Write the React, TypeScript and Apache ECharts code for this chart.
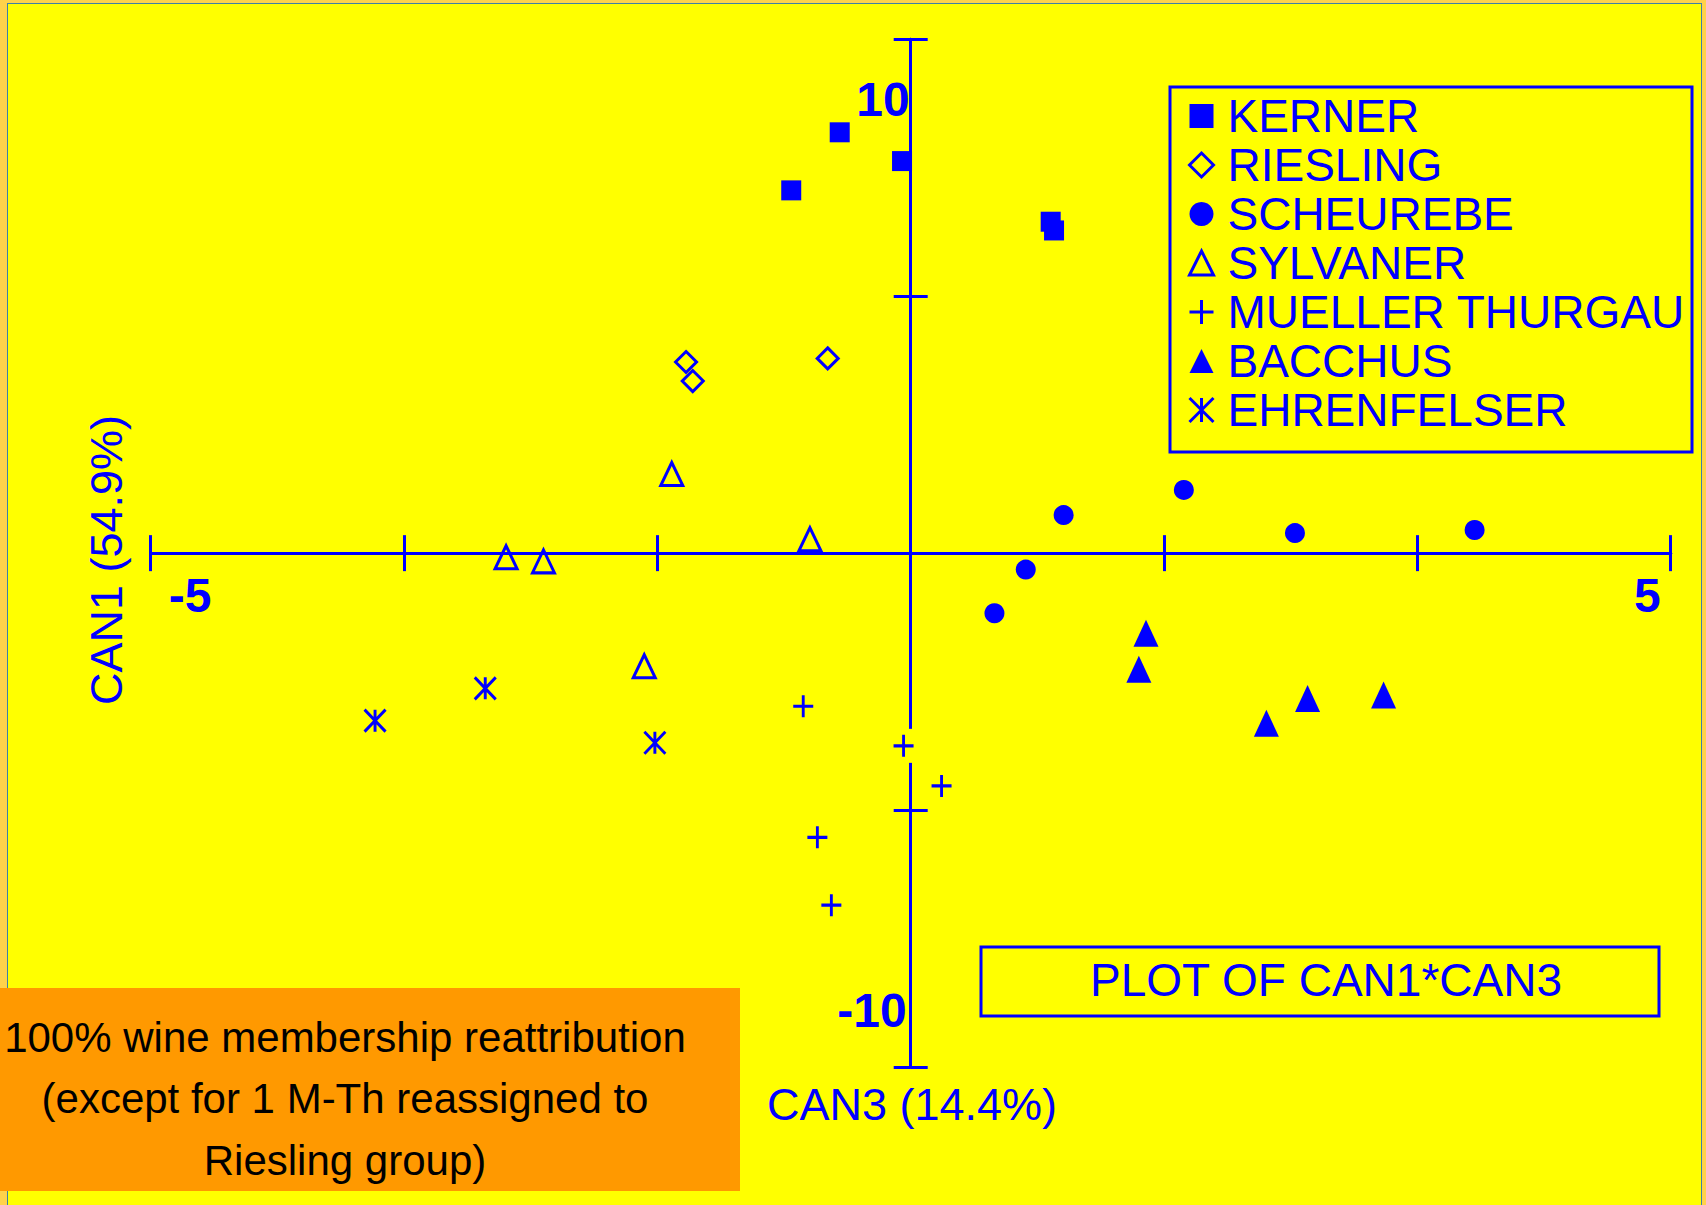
import React, { useEffect, useRef } from 'react';
import * as echarts from 'echarts';

const BLUE = '#0000FF';
const YELLOW = '#FFFF00';
const ORANGE = '#FF9900';
const FONT = '"Liberation Sans", Arial, Helvetica, sans-serif';

// ---- data (CAN3 on x, CAN1 on y) ----
const SERIES_NAMES = ['KERNER', 'RIESLING', 'SCHEUREBE', 'SYLVANER', 'MUELLER THURGAU', 'BACCHUS', 'EHRENFELSER'];
const KERNER = [[-0.786, 7.06], [-0.467, 8.19], [-0.057, 7.63], [0.921, 6.45], [0.943, 6.28]];
const RIESLING = [[-1.478, 3.72], [-1.434, 3.35], [-0.546, 3.79]];
const SCHEUREBE = [[1.006, 0.74], [1.797, 1.23], [0.757, -0.32], [0.551, -1.17], [2.528, 0.39], [3.71, 0.45]];
const SYLVANER = [[-1.572, 1.54], [-0.663, 0.27], [-2.662, -0.08], [-2.416, -0.16], [-1.753, -2.2]];
const MUELLER_THURGAU = [[-0.707, -2.98], [-0.047, -3.75], [0.203, -4.53], [-0.614, -5.53], [-0.522, -6.85]];
const BACCHUS = [[1.548, -1.56], [1.501, -2.26], [2.34, -3.31], [2.611, -2.83], [3.111, -2.76]];
const EHRENFELSER = [[-3.524, -3.26], [-2.799, -2.63], [-1.683, -3.69]];

const X_MIN = -5;
const X_MAX = 5;
const X_STEP = 5 / 3;
const Y_MIN = -10;
const Y_MAX = 10;
const Y_STEP = 5;
const X_END_LABELS = ['-5', '5'];
const Y_END_LABELS = ['10', '-10'];
const X_TITLE = 'CAN3 (14.4%)';
const Y_TITLE = 'CAN1 (54.9%)';
const PLOT_TITLE = 'PLOT OF CAN1*CAN3';
const NOTE_LINES = ['100% wine membership reattribution', '(except for 1 M-Th reassigned to', 'Riesling group)'];

const PLUS = 'path://M0,-1L0,1M-1,0L1,0';
const STAR = 'path://M-1,-1L1,1M1,-1L-1,1M0,-1L0,1';

export default function App() {
  const ref = useRef<HTMLDivElement>(null);

  useEffect(() => {
    const chart = echarts.init(ref.current as HTMLDivElement, null, { renderer: 'svg', width: 1706, height: 1205 });
    const lineStyle = { color: BLUE, width: 3 };
    const mkX = (position: string) => ({
      type: 'value', min: X_MIN, max: X_MAX, interval: X_STEP, position,
      axisLine: { show: true, onZero: true, lineStyle },
      axisTick: { show: true, inside: false, length: 18, lineStyle },
      axisLabel: { show: false }, splitLine: { show: false },
    });
    const mkY = (position: string) => ({
      type: 'value', min: Y_MIN, max: Y_MAX, interval: Y_STEP, position,
      axisLine: { show: true, onZero: true, lineStyle },
      axisTick: { show: true, inside: false, length: 17, lineStyle },
      axisLabel: { show: false }, splitLine: { show: false },
    });
    const hollow = { color: 'none', borderColor: BLUE, borderWidth: 3, opacity: 1 };
    const solid = { color: BLUE, borderWidth: 0, opacity: 1 };
    const defs: any[] = [
      { name: SERIES_NAMES[0], data: KERNER, symbol: 'rect', symbolSize: 20, itemStyle: solid },
      { name: SERIES_NAMES[1], data: RIESLING, symbol: 'diamond', symbolSize: 21, itemStyle: hollow },
      { name: SERIES_NAMES[2], data: SCHEUREBE, symbol: 'circle', symbolSize: 20, itemStyle: solid },
      { name: SERIES_NAMES[3], data: SYLVANER, symbol: 'triangle', symbolSize: [22, 23], itemStyle: hollow },
      { name: SERIES_NAMES[4], data: MUELLER_THURGAU, symbol: PLUS, symbolSize: [20, 22], itemStyle: hollow },
      { name: SERIES_NAMES[5], data: BACCHUS, symbol: 'triangle', symbolSize: [25, 27], itemStyle: solid },
      { name: SERIES_NAMES[6], data: EHRENFELSER, symbol: STAR, symbolSize: [21, 22], itemStyle: hollow },
    ];
    const series: any[] = [
      {
        type: 'scatter', name: '_gap', data: MUELLER_THURGAU, symbol: 'rect', symbolSize: [22, 34],
        itemStyle: { color: YELLOW, opacity: 1 }, z: 2, silent: true, xAxisIndex: 0, yAxisIndex: 0,
      },
      ...defs.map((d) => ({
        type: 'scatter', xAxisIndex: 0, yAxisIndex: 0, z: 3, silent: true,
        emphasis: { disabled: true }, ...d,
      })),
    ];

    chart.setOption({
      animation: false,
      backgroundColor: 'transparent',
      grid: { left: 150.7, right: 35.3, top: 39.3, bottom: 138 },
      xAxis: [mkX('bottom'), mkX('top')],
      yAxis: [mkY('left'), mkY('right')],
      legend: {
        data: defs.map((d) => (d.itemStyle === hollow ? { name: d.name, itemStyle: { borderWidth: 3, opacity: 1 } } : { name: d.name, itemStyle: { opacity: 1 } })),
        orient: 'vertical', left: 1187, top: 93, padding: 0,
        itemWidth: 24, itemHeight: 24, itemGap: 3, selectedMode: false,
        formatter: (n: string) => `{t|${n}}`,
        textStyle: {
          color: BLUE,
          rich: { t: { fontFamily: FONT, fontSize: 46, lineHeight: 46, color: BLUE, padding: [0, 0, 0, 9] } },
        },
      },
      series,
    });

    const px = (x: number, y: number) => chart.convertToPixel({ xAxisIndex: 0, yAxisIndex: 0 }, [x, y]) as number[];
    const pTop = px(0, Y_MAX);
    const pBot = px(0, Y_MIN);
    const pL = px(X_MIN, 0);
    const pR = px(X_MAX, 0);
    const bold = `bold 48px ${FONT}`;
    const reg = (s: number) => `${s}px ${FONT}`;

    chart.setOption({
      graphic: {
        elements: [
          { type: 'text', x: pTop[0] - 1, y: pTop[1] + 60.5, style: { text: Y_END_LABELS[0], fill: BLUE, font: bold, align: 'right', verticalAlign: 'middle' } },
          { type: 'text', x: pBot[0] - 4, y: pBot[1] - 57, style: { text: Y_END_LABELS[1], fill: BLUE, font: bold, align: 'right', verticalAlign: 'middle' } },
          { type: 'text', x: pL[0] + 18, y: pL[1] + 42.5, style: { text: X_END_LABELS[0], fill: BLUE, font: bold, align: 'left', verticalAlign: 'middle' } },
          { type: 'text', x: pR[0] - 10, y: pR[1] + 42.5, style: { text: X_END_LABELS[1], fill: BLUE, font: bold, align: 'right', verticalAlign: 'middle' } },
          { type: 'text', x: 106, y: 560, rotation: Math.PI / 2, style: { text: Y_TITLE, fill: BLUE, font: reg(45), align: 'center', verticalAlign: 'middle' } },
          { type: 'text', x: 912, y: 1104, style: { text: X_TITLE, fill: BLUE, font: reg(45), align: 'center', verticalAlign: 'middle' } },
          { type: 'rect', shape: { x: 1170, y: 87, width: 522, height: 365 }, style: { fill: 'none', stroke: BLUE, lineWidth: 3 } },
          { type: 'rect', shape: { x: 981, y: 947, width: 678, height: 69 }, style: { fill: 'none', stroke: BLUE, lineWidth: 3 } },
          { type: 'text', x: 1326, y: 980, style: { text: PLOT_TITLE, fill: BLUE, font: reg(46), align: 'center', verticalAlign: 'middle' } },
          { type: 'rect', shape: { x: 0, y: 988, width: 740, height: 203 }, style: { fill: ORANGE } },
          { type: 'text', x: 345, y: 1098.5, style: { text: NOTE_LINES.join('\n'), fill: '#000000', font: reg(42), lineHeight: 61.5, align: 'center', verticalAlign: 'middle' } },
        ],
      },
    });

    return () => chart.dispose();
  }, []);

  return (
    <div style={{ position: 'absolute', left: 0, top: 0, width: 1706, height: 1205, background: '#FFD24A', overflow: 'hidden' }}>
      <div style={{ position: 'absolute', left: 7, top: 3, width: 1695, height: 1215, background: YELLOW, border: '1px solid #3F7FA8', boxSizing: 'border-box' }} />
      <div ref={ref} style={{ position: 'absolute', left: 0, top: 0, width: 1706, height: 1205 }} />
    </div>
  );
}
